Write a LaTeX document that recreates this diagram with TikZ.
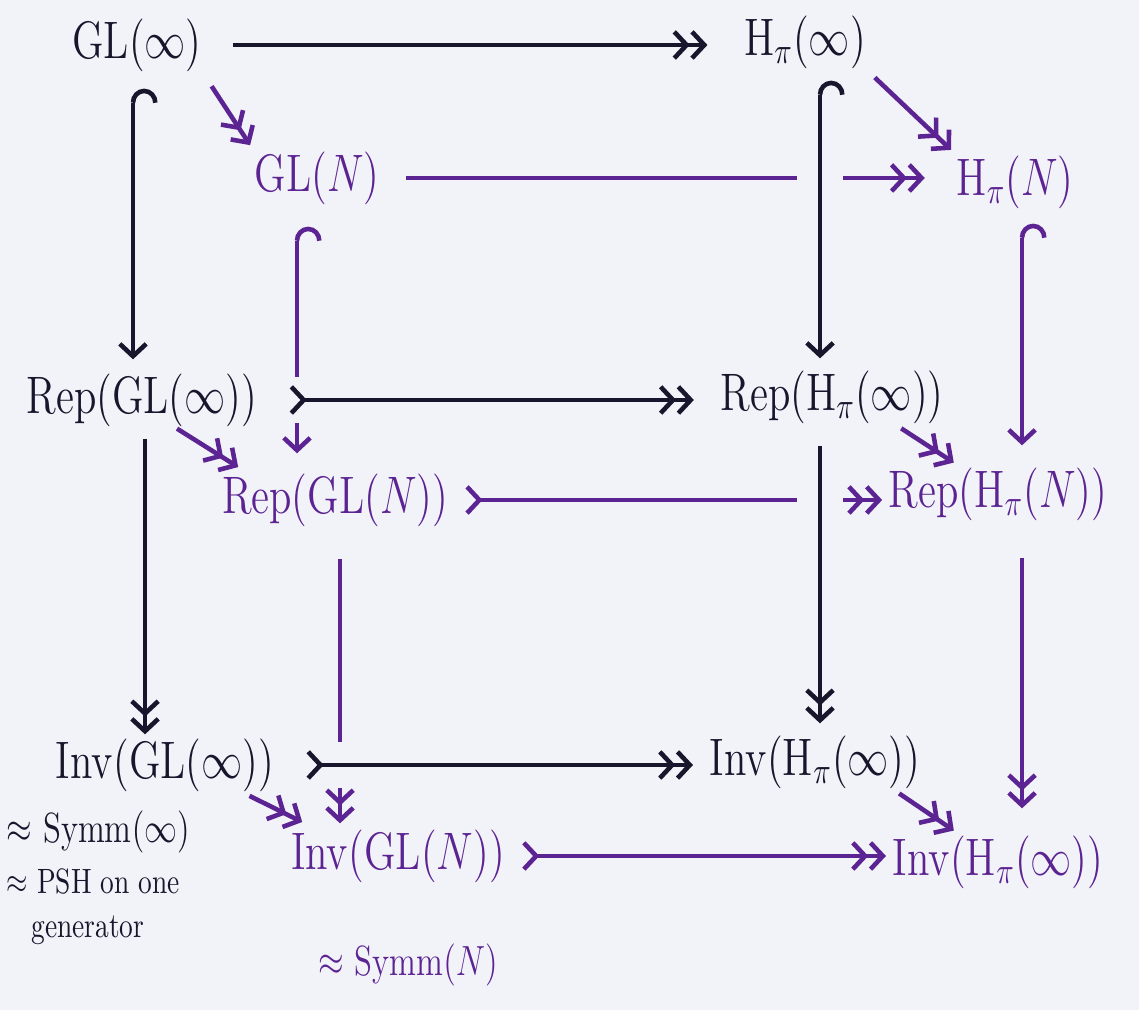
\documentclass[tikz,border=0pt]{standalone}
\usepackage{fix-cm}
\usetikzlibrary{arrows.meta}
\definecolor{paper}{HTML}{F2F3F9}
\definecolor{ink}{HTML}{16162C}
\definecolor{pen}{HTML}{5C2492}
\begin{document}
\begin{tikzpicture}[x=0.01cm, y=-0.01cm, line width=1.3pt,
    >={Straight Barb[length=3.5pt,width=7.5pt]},
    obj/.style={inner sep=0pt, xscale=0.78, font=\fontsize{15}{18}\selectfont},
    note/.style={inner sep=0pt, xscale=0.78, font=\fontsize{12}{14}\selectfont},
    hook/.style={arrows={{Hooks[right,width=14pt,length=4pt]}->}},
    epi/.style={->>},
    mono/.style={>->>},
    over/.style={preaction={draw=paper, line width=13pt, arrows=-}}]
\useasboundingbox (0,0) rectangle (1139,1010);
\fill[paper] (0,0) rectangle (1139,1010);
% back face
\node[obj, ink] (gli) at (137,45) {$\mathrm{GL}(\infty)$};
\node[obj, ink] (hpi) at (805,42) {$\mathrm{H}_\pi(\infty)$};
\node[obj, ink] (rgi) at (142,400) {$\mathrm{Rep}(\mathrm{GL}(\infty))$};
\node[obj, ink] (rhi) at (832,397) {$\mathrm{Rep}(\mathrm{H}_\pi(\infty))$};
\node[obj, ink] (igi) at (165,765) {$\mathrm{Inv}(\mathrm{GL}(\infty))$};
\node[obj, ink] (ihi) at (815,762) {$\mathrm{Inv}(\mathrm{H}_\pi(\infty))$};
% front face
\node[obj, pen] (gln) at (317,178) {$\mathrm{GL}(N)$};
\node[obj, pen] (hpn) at (1015,182) {$\mathrm{H}_\pi(N)$};
\node[obj, pen] (rgn) at (335,500) {$\mathrm{Rep}(\mathrm{GL}(N))$};
\node[obj, pen] (rhn) at (998,494) {$\mathrm{Rep}(\mathrm{H}_\pi(N))$};
\node[obj, pen] (ign) at (398,856) {$\mathrm{Inv}(\mathrm{GL}(N))$};
\node[obj, pen] (ihn) at (998,862) {$\mathrm{Inv}(\mathrm{H}_\pi(\infty))$};
% remarks
\node[note, ink, anchor=west] (symi) at (5,832) {$\approx$ Symm$(\infty)$};
\node[note, ink, anchor=north west, align=left, font=\fontsize{10}{12.5}\selectfont] (psh) at (5,866) {$\approx$ PSH on one\\\hspace*{0.9em}generator};
\node[note, pen] (symn) at (408,965) {$\approx$ Symm$(N)$};
% front arrows
\draw[pen, epi, shorten <=0.25cm, shorten >=0.3cm] (gln.east) -- (gln.east -| hpn.west);
\draw[pen, mono, shorten <=0.15cm, shorten >=0.05cm] (rgn.east) -- (rgn.east -| rhn.west);
\draw[pen, mono, shorten <=0.15cm, shorten >=0.05cm] (ign.east) -- (ign.east -| ihn.west);
\draw[pen, hook, shorten <=0.2cm, shorten >=0.18cm] ([xshift=-0.2cm]gln.south) -- ([xshift=-0.2cm]gln.south |- rgn.north);
\draw[pen, hook, shorten <=0.13cm, shorten >=0.2cm] ([xshift=0.07cm]hpn.south) -- ([xshift=0.07cm]hpn.south |- rhn.north);
\draw[pen, epi, shorten <=0.3cm, shorten >=0.04cm] ([xshift=0.05cm]rgn.south) -- ([xshift=0.05cm]rgn.south |- ign.north);
\draw[pen, epi, shorten <=0.35cm, shorten >=0.25cm] ([xshift=0.24cm]rhn.south) -- ([xshift=0.24cm]rhn.south |- ihn.north);
\draw[pen, epi, shorten <=0.15cm, shorten >=0.05cm] (gli.south east) -- (gln.north west);
\draw[pen, epi, shorten <=0.1cm, shorten >=0.05cm] (hpi.south east) -- (hpn.north west);
\draw[pen, epi, shorten >=0.08cm] ([xshift=0.35cm]rgi.south) -- ([xshift=-0.9cm]rgn.north);
\draw[pen, epi, shorten <=0.05cm, shorten >=0.05cm] ([xshift=0.65cm]rhi.south) -- ([xshift=-0.4cm]rhn.north);
\draw[pen, epi, shorten <=0.05cm, shorten >=0.12cm] ([xshift=0.8cm]igi.south) -- ([xshift=-0.85cm]ign.north);
\draw[pen, epi, shorten <=0.05cm, shorten >=0.05cm] ([xshift=0.8cm]ihi.south) -- ([xshift=-0.4cm]ihn.north);
% back arrows
\draw[ink, epi, shorten <=0.3cm, shorten >=0.35cm] (gli.east) -- (gli.east -| hpi.west);
\draw[ink, hook, shorten <=0.15cm, shorten >=0.12cm] ([xshift=-0.04cm]gli.south) -- ([xshift=-0.04cm]gli.south |- rgi.north);
\draw[ink, hook, over, shorten <=0.1cm, shorten >=0.1cm] ([xshift=0.15cm]hpi.south) -- ([xshift=0.15cm]hpi.south |- rhi.north);
\draw[ink, mono, over, shorten <=0.3cm, shorten >=0.25cm] (rgi.east) -- (rgi.east -| rhi.west);
\draw[ink, epi, shorten <=0.1cm, shorten >=0.02cm] ([xshift=0.03cm]rgi.south) -- ([xshift=0.03cm]rgi.south |- igi.north);
\draw[ink, epi, over, shorten <=0.2cm, shorten >=0.1cm] ([xshift=-0.12cm]rhi.south) -- ([xshift=-0.12cm]rhi.south |- ihi.north);
\draw[ink, mono, over, shorten <=0.3cm, shorten >=0.15cm] (igi.east) -- (igi.east -| ihi.west);
\end{tikzpicture}
\end{document}
